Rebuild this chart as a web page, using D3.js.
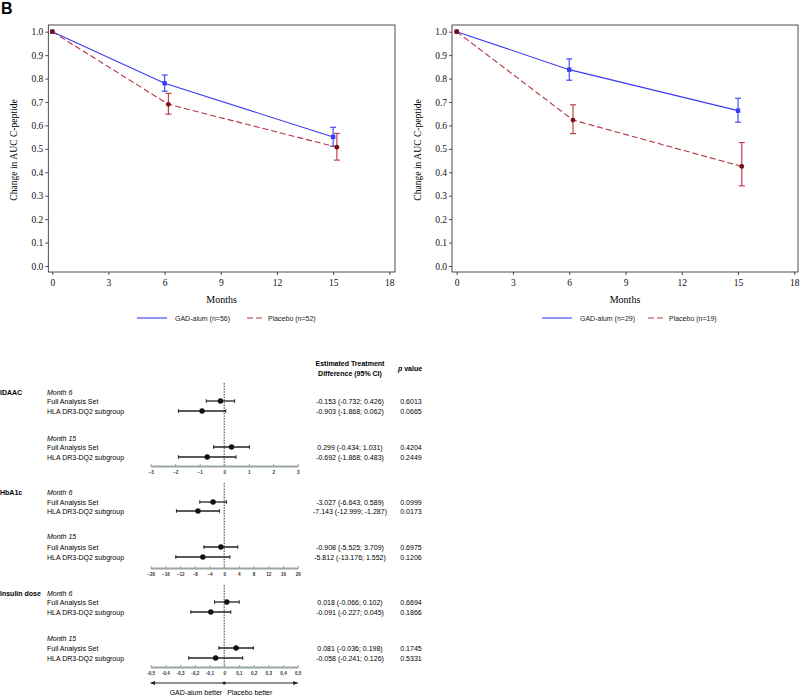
<!DOCTYPE html>
<html><head><meta charset="utf-8">
<script src="https://cdn.jsdelivr.net/npm/d3@7"></script>
<style>
html,body{margin:0;padding:0;background:#fff;}
svg{display:block;}
</style></head>
<body>
<svg id="c" width="800" height="697"></svg>
<script>
// ---- Line-chart data ----
const months = [0, 6, 15];
const placeboMonths = [0, 6.2, 15.2];
const xTicks = [0, 3, 6, 9, 12, 15, 18];
const yTicks = [0, 0.1, 0.2, 0.3, 0.4, 0.5, 0.6, 0.7, 0.8, 0.9, 1.0];

const leftGad = [1.0, 0.78, 0.551];
const leftGadLo = [null, 0.746, 0.511];
const leftGadHi = [null, 0.815, 0.592];
const leftPla = [1.0, 0.69, 0.507];
const leftPlaLo = [null, 0.648, 0.452];
const leftPlaHi = [null, 0.737, 0.566];
const leftLegend = ["GAD-alum (n=56)", "Placebo (n=52)"];

const rightGad = [1.0, 0.838, 0.663];
const rightGadLo = [null, 0.793, 0.614];
const rightGadHi = [null, 0.884, 0.716];
const rightPla = [1.0, 0.623, 0.425];
const rightPlaLo = [null, 0.565, 0.342];
const rightPlaHi = [null, 0.688, 0.527];
const rightLegend = ["GAD-alum (n=29)", "Placebo (n=19)"];

// ---- Forest-plot data ----
const groups = ["IDAAC", "HbA1c", "Insulin dose"];
const visits = ["Month 6", "Month 15"];
const subsets = ["Full Analysis Set", "HLA DR3-DQ2 subgroup"];
const estIDAAC = [-0.153, -0.903, 0.299, -0.692];
const loIDAAC = [-0.732, -1.868, -0.434, -1.868];
const hiIDAAC = [0.426, 0.062, 1.031, 0.483];
const estHbA1c = [-3.027, -7.143, -0.908, -5.812];
const loHbA1c = [-6.643, -12.999, -5.525, -13.176];
const hiHbA1c = [0.589, -1.287, 3.709, 1.552];
const estIns = [0.018, -0.091, 0.081, -0.058];
const loIns = [-0.066, -0.227, -0.036, -0.241];
const hiIns = [0.102, 0.045, 0.198, 0.126];
const pIDAAC = ["0.6013", "0.0665", "0.4204", "0.2449"];
const pHbA1c = ["0.0999", "0.0173", "0.6975", "0.1206"];
const pIns = ["0.6694", "0.1866", "0.1745", "0.5331"];
const ticksIDAAC = [-3, -2, -1, 0, 1, 2, 3];
const ticksHbA1c = [-20, -16, -12, -8, -4, 0, 4, 8, 12, 16, 20];
const ticksIns = [-0.5, -0.4, -0.3, -0.2, -0.1, 0, 0.1, 0.2, 0.3, 0.4, 0.5];

const svg = d3.select("#c");
const serif = "'Liberation Serif','Times New Roman',serif";
const sans = "'Liberation Sans',Arial,sans-serif";
const BLUE = "#3b3bf5", RED = "#b8313d", DRED = "#7a1010";

// Panel label
svg.append("text").attr("x", 1).attr("y", 14).attr("font-family", sans)
  .attr("font-weight", "bold").attr("font-size", 16).text("B");

function lineChart(opt) {
  const g = svg.append("g");
  const x = d3.scaleLinear().domain([0, 18]).range([opt.x0, opt.x1]);
  const y = d3.scaleLinear().domain([0, 1]).range([266, 31.7]);
  g.append("rect").attr("x", opt.fx0).attr("y", 25).attr("width", opt.fx1 - opt.fx0)
    .attr("height", 247).attr("fill", "none").attr("stroke", "#222").attr("stroke-width", 0.8);
  const ax = g.append("g").attr("transform", `translate(0,272)`)
    .call(d3.axisBottom(x).tickValues(xTicks).tickSize(3).tickFormat(d3.format("d")));
  const ay = g.append("g").attr("transform", `translate(${opt.fx0},0)`)
    .call(d3.axisLeft(y).tickValues(yTicks).tickSize(3).tickFormat(d3.format(".1f")));
  [ax, ay].forEach(a => {
    a.select(".domain").remove();
    a.selectAll("line").attr("stroke", "#222").attr("stroke-width", 0.8);
    a.selectAll("text").attr("font-family", serif).attr("font-size", 9.5).attr("fill", "#111");
  });
  ax.selectAll("text").attr("dy", "0.9em").attr("y", 5);
  ay.selectAll("text").attr("x", -5);
  g.append("text").attr("x", (opt.fx0 + opt.fx1) / 2).attr("y", 303).attr("text-anchor", "middle")
    .attr("font-family", serif).attr("font-size", 10).text("Months");
  g.append("text").attr("transform", `translate(${opt.fx0 - 31},150) rotate(-90)`)
    .attr("text-anchor", "middle").attr("font-family", serif).attr("font-size", 9.6)
    .text("Change in AUC C-peptide");

  const series = [
    {xs: months, v: opt.gad, lo: opt.gadLo, hi: opt.gadHi, c: BLUE, mc: BLUE, dash: null, shape: "sq"},
    {xs: placeboMonths, v: opt.pla, lo: opt.plaLo, hi: opt.plaHi, c: RED, mc: DRED, dash: "6,3", shape: "ci"}
  ];
  const line = d3.line().x(d => x(d[0])).y(d => y(d[1]));
  series.forEach(s => {
    const pts = s.xs.map((m, i) => [m, s.v[i], s.lo[i], s.hi[i]]);
    g.append("path").attr("d", line(pts)).attr("fill", "none").attr("stroke", s.c)
      .attr("stroke-width", 1.1).attr("stroke-dasharray", s.dash);
    pts.filter(p => p[2] != null).forEach(p => {
      const xx = x(p[0]);
      g.append("line").attr("x1", xx).attr("x2", xx).attr("y1", y(p[2])).attr("y2", y(p[3]))
        .attr("stroke", s.c).attr("stroke-width", 1.1);
      [p[2], p[3]].forEach(v => g.append("line").attr("x1", xx - 3).attr("x2", xx + 3)
        .attr("y1", y(v)).attr("y2", y(v)).attr("stroke", s.c).attr("stroke-width", 1.1));
    });
    pts.forEach(p => {
      if (s.shape === "sq") g.append("rect").attr("x", x(p[0]) - 2.2).attr("y", y(p[1]) - 2.2)
        .attr("width", 4.4).attr("height", 4.4).attr("fill", s.mc);
      else g.append("circle").attr("cx", x(p[0])).attr("cy", y(p[1])).attr("r", 2.4).attr("fill", s.mc);
    });
  });
  const ly = 318;
  g.append("line").attr("x1", opt.lg0).attr("x2", opt.lg0 + 30).attr("y1", ly).attr("y2", ly)
    .attr("stroke", BLUE).attr("stroke-width", 1.1);
  g.append("text").attr("x", opt.lg0 + 38).attr("y", ly + 2.5).attr("font-family", sans)
    .attr("font-size", 7).attr("fill", "#222").text(opt.legend[0]);
  g.append("line").attr("x1", opt.lp0).attr("x2", opt.lp0 + 15).attr("y1", ly).attr("y2", ly)
    .attr("stroke", RED).attr("stroke-width", 1.1).attr("stroke-dasharray", "6,3");
  g.append("text").attr("x", opt.lp0 + 21).attr("y", ly + 2.5).attr("font-family", sans)
    .attr("font-size", 7).attr("fill", "#222").text(opt.legend[1]);
}

lineChart({x0: 52.3, x1: 389.3, fx0: 48.3, fx1: 395, gad: leftGad, gadLo: leftGadLo, gadHi: leftGadHi,
  pla: leftPla, plaLo: leftPlaLo, plaHi: leftPlaHi, legend: leftLegend, lg0: 137, lp0: 247});
lineChart({x0: 456.7, x1: 794.3, fx0: 452, fx1: 798, gad: rightGad, gadLo: rightGadLo, gadHi: rightGadHi,
  pla: rightPla, plaLo: rightPlaLo, plaHi: rightPlaHi, legend: rightLegend, lg0: 542, lp0: 648});

// ---- Forest plot ----
const FX0 = 150.7, FX1 = 297.7, FS = 7;
svg.append("text").attr("x", 350).attr("y", 366).attr("text-anchor", "middle").attr("font-family", sans)
  .attr("font-weight", "bold").attr("font-size", FS).text("Estimated Treatment");
svg.append("text").attr("x", 350).attr("y", 375.5).attr("text-anchor", "middle").attr("font-family", sans)
  .attr("font-weight", "bold").attr("font-size", FS).text("Difference (95% CI)");
const pv = svg.append("text").attr("x", 398).attr("y", 371).attr("font-family", sans)
  .attr("font-weight", "bold").attr("font-size", FS);
pv.append("tspan").attr("font-style", "italic").text("p");
pv.append("tspan").text(" value");

const panels = [
  {name: groups[0], est: estIDAAC, lo: loIDAAC, hi: hiIDAAC, p: pIDAAC, ticks: ticksIDAAC, dom: [-3, 3],
   rows: [[392, 401, 411], [438, 447, 457]], axisY: 466, zTop: 383, fmt: d => d3.format("d")(d)},
  {name: groups[1], est: estHbA1c, lo: loHbA1c, hi: hiHbA1c, p: pHbA1c, ticks: ticksHbA1c, dom: [-20, 20],
   rows: [[492, 502, 511], [536, 547, 557]], axisY: 568, zTop: 483, fmt: d => d3.format("d")(d)},
  {name: groups[2], est: estIns, lo: loIns, hi: hiIns, p: pIns, ticks: ticksIns, dom: [-0.5, 0.5],
   rows: [[593, 602, 612], [638, 648, 658]], axisY: 667, zTop: 585,
   fmt: d => d === 0 ? "0" : d3.format(".1f")(d).replace(".", ",").replace("−", "-")}
];
const fmtV = d => d3.format(".3f")(d).replace("−", "-");

panels.forEach(P => {
  const g = svg.append("g");
  const x = d3.scaleLinear().domain(P.dom).range([FX0, FX1]);
  g.append("text").attr("x", 0).attr("y", P.rows[0][0] + 2.5).attr("font-family", sans)
    .attr("font-weight", "bold").attr("font-size", FS).text(P.name);
  g.append("line").attr("x1", x(0)).attr("x2", x(0)).attr("y1", P.zTop).attr("y2", P.axisY)
    .attr("stroke", "#222").attr("stroke-width", 0.9).attr("stroke-dasharray", "1.5,1.2");
  P.rows.forEach((r, vi) => {
    g.append("text").attr("x", 47).attr("y", r[0] + 2.5).attr("font-family", sans)
      .attr("font-style", "italic").attr("font-size", FS).text(visits[vi]);
    [0, 1].forEach(si => {
      const k = vi * 2 + si, yy = r[si + 1];
      g.append("text").attr("x", 47).attr("y", yy + 2.5).attr("font-family", sans)
        .attr("font-size", FS).text(subsets[si]);
      g.append("line").attr("x1", x(P.lo[k])).attr("x2", x(P.hi[k])).attr("y1", yy).attr("y2", yy)
        .attr("stroke", "#222").attr("stroke-width", 1.3);
      [P.lo[k], P.hi[k]].forEach(v => g.append("line").attr("x1", x(v)).attr("x2", x(v))
        .attr("y1", yy - 1.8).attr("y2", yy + 1.8).attr("stroke", "#222").attr("stroke-width", 1));
      g.append("circle").attr("cx", x(P.est[k])).attr("cy", yy).attr("r", 2.7).attr("fill", "#111");
      g.append("text").attr("x", 350).attr("y", yy + 2.5).attr("text-anchor", "middle")
        .attr("font-family", sans).attr("font-size", FS)
        .text(`${fmtV(P.est[k])} (${fmtV(P.lo[k])}; ${fmtV(P.hi[k])})`);
      g.append("text").attr("x", 411).attr("y", yy + 2.5).attr("text-anchor", "middle")
        .attr("font-family", sans).attr("font-size", FS).text(P.p[k]);
    });
  });
  const ax = g.append("g").attr("transform", `translate(0,${P.axisY})`)
    .call(d3.axisBottom(x).tickValues(P.ticks).tickSize(0).tickFormat(P.fmt));
  ax.select(".domain").attr("stroke", "#9aa6a1").attr("stroke-width", 2);
  ax.selectAll(".tick").append("line").attr("y1", -2).attr("y2", 1).attr("stroke", "#9aa6a1").attr("stroke-width", 1);
  ax.selectAll("text").attr("font-family", sans).attr("font-size", 4.6).attr("font-weight", "bold")
    .attr("fill", "#333").attr("y", 5).attr("dy", "0.7em");
});

// direction arrow
const xa = d3.scaleLinear().domain([-1, 1]).range([FX0, FX1]);
const defs = svg.append("defs");
defs.append("marker").attr("id", "ah").attr("viewBox", "0 0 10 10").attr("refX", 9).attr("refY", 5)
  .attr("markerWidth", 5).attr("markerHeight", 5).attr("orient", "auto-start-reverse")
  .append("path").attr("d", "M0,1 L10,5 L0,9 Z").attr("fill", "#222");
svg.append("line").attr("x1", xa(-1)).attr("x2", xa(1)).attr("y1", 683).attr("y2", 683)
  .attr("stroke", "#222").attr("stroke-width", 1).attr("marker-start", "url(#ah)").attr("marker-end", "url(#ah)");
svg.append("circle").attr("cx", xa(0)).attr("cy", 683).attr("r", 1.6).attr("fill", "#222");
svg.append("text").attr("x", xa(0) - 2).attr("y", 695).attr("text-anchor", "end").attr("font-family", sans)
  .attr("font-size", FS).text("GAD-alum better");
svg.append("text").attr("x", xa(0) + 3).attr("y", 695).attr("font-family", sans)
  .attr("font-size", FS).text("Placebo better");
</script>
</body></html>
